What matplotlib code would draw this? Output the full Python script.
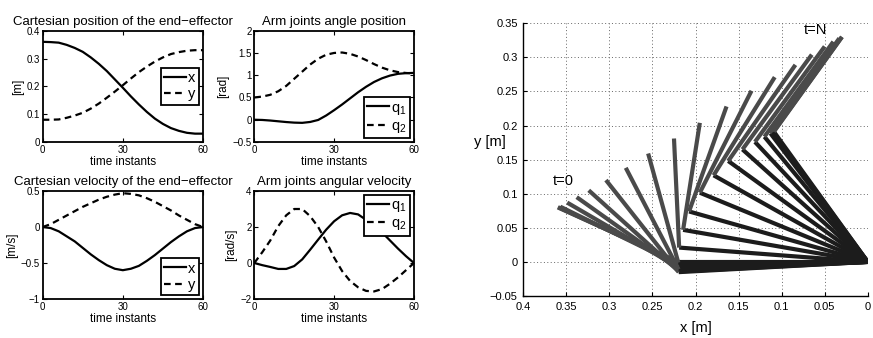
import matplotlib
matplotlib.use('Agg')
import matplotlib.pyplot as plt

plt.rcParams['font.family'] = ['Liberation Sans', 'DejaVu Sans']
plt.rcParams['mathtext.fontset'] = 'custom'
plt.rcParams['mathtext.rm'] = 'Liberation Sans'
plt.rcParams['mathtext.it'] = 'Liberation Sans:italic'
plt.rcParams['axes.unicode_minus'] = True

# ---------------- data (sampled every 3 time instants) ----------------
t = [0, 3, 6, 9, 12, 15, 18, 21, 24, 27, 30, 33, 36, 39, 42, 45, 48, 51, 54, 57, 60]

# Cartesian position of the end-effector [m]
pos_x = [0.360, 0.359, 0.357, 0.349, 0.338, 0.324, 0.304, 0.281, 0.255, 0.225, 0.195,
         0.164, 0.135, 0.108, 0.084, 0.065, 0.050, 0.040, 0.033, 0.030, 0.030]
pos_y = [0.080, 0.080, 0.081, 0.087, 0.095, 0.105, 0.120, 0.138, 0.159, 0.181, 0.204,
         0.228, 0.251, 0.271, 0.289, 0.304, 0.316, 0.323, 0.328, 0.330, 0.330]

# Arm joints angle position [rad]
q1 = [0.000, -0.005, -0.018, -0.035, -0.052, -0.065, -0.070, -0.050, -0.005, 0.095, 0.215,
      0.343, 0.480, 0.617, 0.740, 0.848, 0.931, 0.992, 1.031, 1.046, 1.052]
q2 = [0.50, 0.52, 0.56, 0.64, 0.76, 0.92, 1.08, 1.24, 1.37, 1.46, 1.50,
      1.51, 1.48, 1.42, 1.34, 1.25, 1.17, 1.11, 1.07, 1.05, 1.04]

# Cartesian velocity of the end-effector [m/s]
vel_x = [0.0, -0.015, -0.06, -0.13, -0.20, -0.29, -0.38, -0.46, -0.53, -0.58, -0.60,
         -0.58, -0.54, -0.47, -0.39, -0.30, -0.21, -0.13, -0.06, -0.015, 0.0]
vel_y = [0.0, 0.04, 0.10, 0.16, 0.22, 0.28, 0.33, 0.38, 0.42, 0.45, 0.47,
         0.46, 0.44, 0.40, 0.35, 0.29, 0.23, 0.16, 0.10, 0.04, 0.0]

# Arm joints angular velocity [rad/s]
dq1 = [0.0, -0.12, -0.22, -0.33, -0.33, -0.17, 0.20, 0.74, 1.30, 1.85, 2.32,
       2.65, 2.78, 2.70, 2.40, 2.10, 1.70, 1.25, 0.80, 0.38, 0.0]
dq2 = [0.0, 0.60, 1.25, 2.05, 2.65, 3.00, 3.00, 2.60, 2.00, 1.20, 0.30,
       -0.45, -1.00, -1.35, -1.55, -1.58, -1.45, -1.15, -0.80, -0.40, 0.0]

# Elbow positions of the arm (shoulder at the origin) [m]
elbow_x = [0.220, 0.220, 0.220, 0.220, 0.220, 0.2195, 0.2195, 0.2197, 0.220, 0.219, 0.2144,
           0.2075, 0.195, 0.179, 0.162, 0.1455, 0.131, 0.120, 0.113, 0.110, 0.109]
elbow_y = [0.000, -0.001, -0.004, -0.008, -0.011, -0.014, -0.015, -0.011, -0.001, 0.021, 0.047,
           0.074, 0.1015, 0.127, 0.148, 0.165, 0.176, 0.1836, 0.1886, 0.190, 0.191]

BLACK = '#000000'
LINK1 = '#1c1c1c'
LINK2 = '#4a4a4a'

fig = plt.figure(figsize=(8.73, 3.38), dpi=100)

ax_tl = fig.add_axes([0.0489, 0.5799, 0.1836, 0.3293])
ax_tr = fig.add_axes([0.2913, 0.5799, 0.1829, 0.3293])
ax_bl = fig.add_axes([0.0489, 0.1154, 0.1836, 0.3195])
ax_br = fig.add_axes([0.2913, 0.1154, 0.1829, 0.3195])
ax_r = fig.add_axes([0.5994, 0.1243, 0.3946, 0.8068])

LW = 1.6
DASH = (0, (3, 2))


def style_small(ax, ylim, yticks, yticklabels, ylabel, title):
    ax.set_xlim(0, 60)
    ax.set_xticks([0, 30, 60])
    ax.set_xticklabels(['0', '30', '60'])
    ax.set_ylim(*ylim)
    ax.set_yticks(yticks)
    ax.set_yticklabels(yticklabels)
    ax.tick_params(direction='in', length=3, width=0.8, top=True, right=True,
                   labelsize=7, pad=2)
    for s in ax.spines.values():
        s.set_linewidth(1.3)
    ax.set_xlabel('time instants', fontsize=8.5, labelpad=1)
    ax.set_ylabel(ylabel, fontsize=8.5, labelpad=2)
    ax.set_title(title, fontsize=9.5, pad=4)


def add_legend(ax, loc):
    leg = ax.legend(loc=loc, fontsize=10.5, frameon=True, fancybox=False,
                    edgecolor='black', framealpha=1, handlelength=1.5,
                    handletextpad=0.15, borderpad=0.25, labelspacing=0.15,
                    borderaxespad=0.25)
    leg.get_frame().set_linewidth(1.3)
    return leg


# top-left
ax_tl.plot(t, pos_x, color=BLACK, lw=LW, label='x')
ax_tl.plot(t, pos_y, color=BLACK, lw=LW, linestyle=DASH, label='y')
style_small(ax_tl, (0, 0.4), [0, 0.1, 0.2, 0.3, 0.4], ['0', '0.1', '0.2', '0.3', '0.4'],
            '[m]', 'Cartesian position of the end\u2212effector')
add_legend(ax_tl, 'center right')

# top-right
ax_tr.plot(t, q1, color=BLACK, lw=LW, label='q$_1$')
ax_tr.plot(t, q2, color=BLACK, lw=LW, linestyle=DASH, label='q$_2$')
style_small(ax_tr, (-0.5, 2), [-0.5, 0, 0.5, 1, 1.5, 2],
            ['\u22120.5', '0', '0.5', '1', '1.5', '2'],
            '[rad]', 'Arm joints angle position')
add_legend(ax_tr, 'lower right')

# bottom-left
ax_bl.plot(t, vel_x, color=BLACK, lw=LW, label='x')
ax_bl.plot(t, vel_y, color=BLACK, lw=LW, linestyle=DASH, label='y')
style_small(ax_bl, (-1, 0.5), [-1, -0.5, 0, 0.5], ['\u22121', '\u22120.5', '0', '0.5'],
            '[m/s]', 'Cartesian velocity of the end\u2212effector')
add_legend(ax_bl, 'lower right')

# bottom-right
ax_br.plot(t, dq1, color=BLACK, lw=LW, label='q$_1$')
ax_br.plot(t, dq2, color=BLACK, lw=LW, linestyle=DASH, label='q$_2$')
style_small(ax_br, (-2, 4), [-2, 0, 2, 4], ['\u22122', '0', '2', '4'],
            '[rad/s]', 'Arm joints angular velocity')
add_legend(ax_br, 'upper right')

# right: arm configurations
for ex, ey, px, py in zip(elbow_x, elbow_y, pos_x, pos_y):
    ax_r.plot([0, ex], [0, ey], color=LINK1, lw=3, solid_capstyle='butt')
    ax_r.plot([ex, px], [ey, py], color=LINK2, lw=3, solid_capstyle='butt')

ax_r.set_xlim(0.4, 0)
ax_r.set_ylim(-0.05, 0.35)
xt = [0.4, 0.35, 0.3, 0.25, 0.2, 0.15, 0.1, 0.05, 0]
ax_r.set_xticks(xt)
ax_r.set_xticklabels(['0.4', '0.35', '0.3', '0.25', '0.2', '0.15', '0.1', '0.05', '0'])
yt = [-0.05, 0, 0.05, 0.1, 0.15, 0.2, 0.25, 0.3, 0.35]
ax_r.set_yticks(yt)
ax_r.set_yticklabels(['\u22120.05', '0', '0.05', '0.1', '0.15', '0.2', '0.25', '0.3', '0.35'])
ax_r.grid(True, linestyle=(0, (1, 2.5)), color='#666666', linewidth=0.7)
ax_r.set_axisbelow(True)
ax_r.spines['top'].set_visible(False)
ax_r.spines['right'].set_visible(False)
for s in ('left', 'bottom'):
    ax_r.spines[s].set_linewidth(1.0)
ax_r.tick_params(direction='in', length=3, width=0.8, labelsize=8, pad=4)
ax_r.set_xlabel('x [m]', fontsize=10.5, labelpad=7)
ax_r.set_ylabel('y [m]', fontsize=10.5, rotation=0, ha='right', va='center')
ax_r.yaxis.set_label_coords(-0.05, 0.565)
ax_r.text(0.366, 0.119, 't=0', fontsize=10.5, ha='left', va='center')
ax_r.text(0.0746, 0.340, 't=N', fontsize=10.5, ha='left', va='center')

fig.savefig('out.png', dpi=100)
